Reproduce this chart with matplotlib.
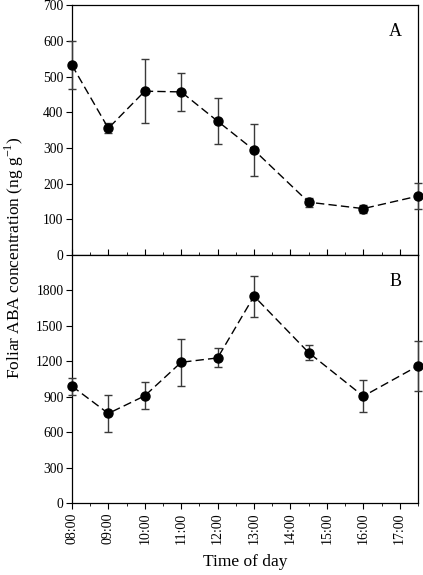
import matplotlib
matplotlib.use("Agg")
import matplotlib.pyplot as plt
from matplotlib.ticker import MultipleLocator, FixedLocator

plt.rcParams['font.family'] = ['Liberation Serif', 'DejaVu Serif']

# hours after 08:00
times = [0, 1, 2, 3, 4, 5, 6.5, 8, 9.5]
aba_a = [532, 355, 459, 457, 375, 294, 148, 130, 165]
err_a = [67, 14, 90, 54, 64, 73, 13, 11, 37]
aba_b = [990, 759, 908, 1192, 1229, 1752, 1274, 905, 1161]
err_b = [73, 160, 115, 197, 80, 173, 65, 136, 210]
tick_labels = ["08:00", "09:00", "10:00", "11:00", "12:00", "13:00",
               "14:00", "15:00", "16:00", "17:00"]
yticks_a = [0, 100, 200, 300, 400, 500, 600, 700]
yticks_b = [0, 300, 600, 900, 1200, 1500, 1800]

fig = plt.figure(figsize=(4.23, 5.75), dpi=100)
axA = fig.add_axes([0.170, 0.5565, 0.818, 0.4345])
axB = fig.add_axes([0.170, 0.125, 0.818, 0.4315])

def style(ax, vals, errs, ylim, yticks, letter, bottom):
    ax.errorbar(times, vals, yerr=errs,
                fmt='o', color='black', ms=6.5, ecolor='#3a3a3a', elinewidth=1,
                capsize=3, capthick=1, linestyle=(0, (6, 3)), lw=1,
                clip_on=False, zorder=3)
    ax.set_xlim(0, 9.5)
    ax.set_ylim(0, ylim)
    ax.yaxis.set_major_locator(FixedLocator(yticks))
    ax.xaxis.set_major_locator(MultipleLocator(1))
    ax.xaxis.set_minor_locator(MultipleLocator(0.5))
    ax.tick_params(axis='y', direction='out', length=4, labelsize=9.8, pad=2)
    ax.tick_params(axis='y', which='both', right=False)
    ax.text(0.935, 0.895, letter, transform=ax.transAxes, fontsize=13,
            ha='center', va='center')
    ax.set_xticks(list(range(10)))
    if bottom:
        ax.set_xticklabels(tick_labels, rotation=90, fontsize=10)
        ax.tick_params(axis='x', which='major', direction='out', length=4, pad=3)
        ax.tick_params(axis='x', which='minor', direction='out', length=2.5)
    else:
        ax.set_xticklabels([])
        ax.tick_params(axis='x', which='major', direction='in', length=4)
        ax.tick_params(axis='x', which='minor', direction='in', length=2.5)
    for s in ax.spines.values():
        s.set_linewidth(0.9)

style(axA, aba_a, err_a, 700, yticks_a, 'A', False)
style(axB, aba_b, err_b, 2100, yticks_b, 'B', True)

axB.set_xlabel("Time of day", fontsize=12.5, labelpad=7)
fig.text(0.035, 0.551, "Foliar ABA concentration (ng g$^{\\mathregular{-1}}$)",
         rotation=90, ha='center', va='center', fontsize=12.5)

fig.savefig("out.png", dpi=100)
